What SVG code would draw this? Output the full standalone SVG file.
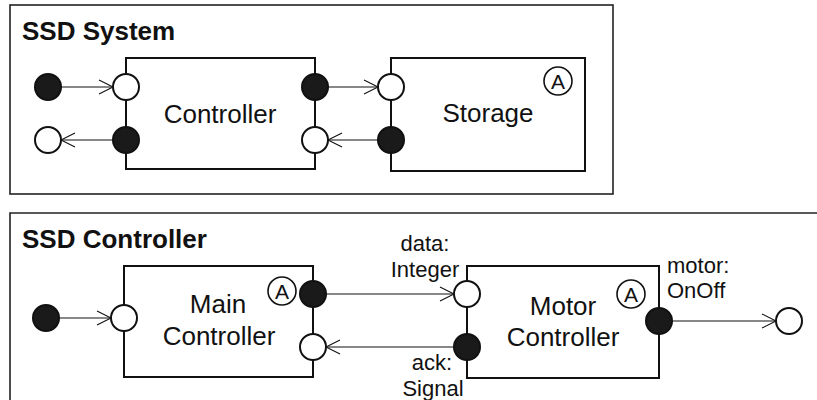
<svg xmlns="http://www.w3.org/2000/svg" width="817" height="400" viewBox="0 0 817 400">
<defs>
<style>
.frame{fill:#fff;stroke:#222;stroke-width:1.6}
.box{fill:#fff;stroke:#111;stroke-width:2}
.pin{fill:#fff;stroke:#111;stroke-width:2}
.pout{fill:#1a1a1a;stroke:#111;stroke-width:2}
.abs{fill:#fff;stroke:#111;stroke-width:1.6}
.conn{stroke:#111;stroke-width:1.1;fill:none;marker-end:url(#arr)}
text{font-family:"Liberation Sans",Arial,sans-serif;fill:#111}
.title{font-size:26px;font-weight:bold}
.lbl{font-size:26px;text-anchor:middle}
.a{font-size:21px;text-anchor:middle}
.port{font-size:22px}
</style>
<marker id="arr" markerUnits="userSpaceOnUse" markerWidth="16" markerHeight="16" refX="14" refY="7" orient="auto" overflow="visible">
<path d="M0,0 L14,7 L0,14" fill="none" stroke="#111" stroke-width="1.1"/>
</marker>
</defs>
<rect width="817" height="400" fill="#fff"/>
<g id="frame-system">
<rect class="frame" x="10" y="5" width="603" height="189"/>
<text class="title" x="22" y="40">SSD System</text>
</g>
<g id="frame-controller">
<path class="frame" d="M817,213 L10,213 L10,402" fill="none"/>
<text class="title" x="22" y="248">SSD Controller</text>
</g>
<g id="connectors">
<line class="conn" x1="61" y1="87" x2="113" y2="87"/>
<line class="conn" x1="113" y1="140" x2="61" y2="140"/>
<line class="conn" x1="328" y1="87" x2="378" y2="87"/>
<line class="conn" x1="378" y1="140" x2="328" y2="140"/>
<line class="conn" x1="59" y1="318" x2="111" y2="318"/>
<line class="conn" x1="326" y1="294" x2="454" y2="294"/>
<line class="conn" x1="454" y1="347" x2="326" y2="347"/>
<line class="conn" x1="672" y1="321" x2="776" y2="321"/>
</g>
<g id="ext-in-1"><circle class="pout" cx="48" cy="87" r="13"/></g>
<g id="ext-out-1"><circle class="pin" cx="48" cy="140" r="13"/></g>
<g id="controller">
<rect class="box" x="126" y="58" width="189" height="111"/>
<text class="lbl" x="220" y="123">Controller</text>
<circle class="pin" cx="126" cy="87" r="13"/>
<circle class="pout" cx="126" cy="140" r="13"/>
<circle class="pout" cx="315" cy="87" r="13"/>
<circle class="pin" cx="315" cy="140" r="13"/>
</g>
<g id="storage">
<rect class="box" x="391" y="58" width="194" height="113"/>
<text class="lbl" x="488" y="122">Storage</text>
<circle class="abs" cx="558" cy="81" r="14"/>
<text class="a" x="558" y="88.5">A</text>
<circle class="pin" cx="391" cy="87" r="13"/>
<circle class="pout" cx="391" cy="140" r="13"/>
</g>
<g id="ext-in-2"><circle class="pout" cx="46" cy="318" r="13"/></g>
<g id="main-controller">
<rect class="box" x="124" y="266" width="189" height="111"/>
<text class="lbl" x="218" y="313">Main</text>
<text class="lbl" x="219" y="345">Controller</text>
<circle class="abs" cx="282" cy="291" r="14"/>
<text class="a" x="282" y="298.5">A</text>
<circle class="pin" cx="124" cy="318" r="13"/>
<circle class="pout" cx="313" cy="294" r="13"/>
<circle class="pin" cx="313" cy="347" r="13"/>
</g>
<g id="motor-controller">
<rect class="box" x="467" y="266" width="192" height="112"/>
<text class="lbl" x="563" y="315">Motor</text>
<text class="lbl" x="563" y="346">Controller</text>
<circle class="abs" cx="631" cy="294" r="14"/>
<text class="a" x="631" y="301.5">A</text>
<circle class="pin" cx="467" cy="294" r="13"/>
<circle class="pout" cx="467" cy="347" r="13"/>
<circle class="pout" cx="659" cy="321" r="13"/>
<text class="port" x="425" y="251" text-anchor="middle">data:</text>
<text class="port" x="425" y="277" text-anchor="middle">Integer</text>
<text class="port" x="432" y="370" text-anchor="middle">ack:</text>
<text class="port" x="433" y="396" text-anchor="middle">Signal</text>
<text class="port" x="667" y="273">motor:</text>
<text class="port" x="667" y="298">OnOff</text>
</g>
<g id="ext-out-2"><circle class="pin" cx="789" cy="321" r="13"/></g>
</svg>
